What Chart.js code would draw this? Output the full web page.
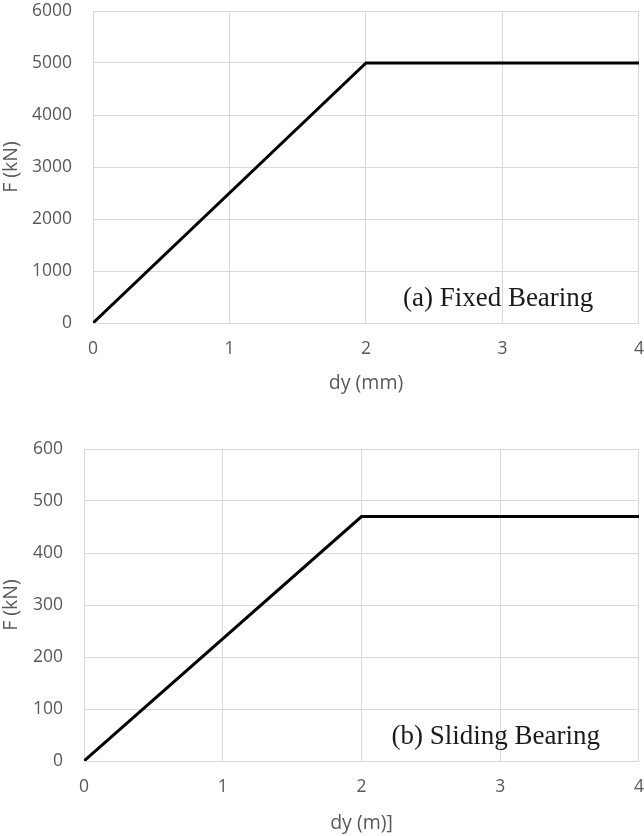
<!DOCTYPE html>
<html>
<head>
<meta charset="utf-8">
<script src="https://cdn.jsdelivr.net/npm/chart.js@4"></script>
<style>
  body { margin: 0; background: #fff; width: 644px; height: 836px; overflow: hidden; }
  .box { position: absolute; left: 0; width: 644px; }
</style>
</head>
<body>
<div class="box" style="top:0;height:400px"><canvas id="fixedChart" width="644" height="400"></canvas></div>
<div class="box" style="top:420px;height:416px"><canvas id="slidingChart" width="644" height="416"></canvas></div>
<script>
// data
const xTicks = [0, 1, 2, 3, 4];
const dyFixed = [0, 2, 4];
const forceFixed = [0, 5000, 5000];
const yTicksFixed = [0, 1000, 2000, 3000, 4000, 5000, 6000];
const dySliding = [0, 2, 4];
const forceSliding = [0, 470, 470];
const yTicksSliding = [0, 100, 200, 300, 400, 500, 600];

const GRID = '#d9d9d9';
const TICK = '#595959';

// text label inside the plot, placed relative to the chart area
const boxLabel = {
    id: 'boxLabel',
    afterDraw(chart, args, opts) {
        const a = chart.chartArea;
        const ctx = chart.ctx;
        ctx.save();
        ctx.font = '27px "Liberation Serif", "Times New Roman", serif';
        ctx.fillStyle = '#1a1a1a';
        ctx.textAlign = 'center';
        ctx.textBaseline = 'middle';
        ctx.fillText(opts.text, a.left + a.width * 0.742, a.top + a.height * 0.924);
        ctx.restore();
    }
};

function makeChart(id, xs, ys, yTicks, xTitle, label, pad, yWidth, xHeight) {
    const points = xs.map((x, i) => ({ x: x, y: ys[i] }));
    return new Chart(document.getElementById(id), {
        type: 'line',
        data: {
            datasets: [{
                data: points,
                borderColor: '#000',
                borderWidth: 3,
                pointRadius: 0,
                tension: 0
            }]
        },
        options: {
            responsive: false,
            animation: false,
            layout: { padding: pad },
            plugins: {
                legend: { display: false },
                tooltip: { enabled: false },
                boxLabel: { text: label }
            },
            scales: {
                x: {
                    type: 'linear',
                    min: xTicks[0],
                    max: xTicks[xTicks.length - 1],
                    afterBuildTicks: s => { s.ticks = xTicks.map(v => ({ value: v })); },
                    afterFit: s => { s.height = xHeight; },
                    grid: { color: GRID, tickLength: 16, tickColor: 'rgba(0,0,0,0)' },
                    border: { color: GRID },
                    ticks: {
                        color: TICK, padding: 0, maxRotation: 0,
                        font: { family: 'Open Sans', size: 17.5 },
                        callback: v => String(v)
                    },
                    title: {
                        display: true, text: xTitle, color: TICK,
                        padding: 0, font: { family: 'Open Sans', size: 19.5 }
                    }
                },
                y: {
                    min: yTicks[0],
                    max: yTicks[yTicks.length - 1],
                    afterBuildTicks: s => { s.ticks = yTicks.map(v => ({ value: v })); },
                    afterFit: s => { s.width = yWidth; },
                    grid: { color: GRID, tickLength: 21, tickColor: 'rgba(0,0,0,0)' },
                    border: { color: GRID },
                    ticks: {
                        color: TICK, padding: 0,
                        font: { family: 'Open Sans', size: 17.5 },
                        callback: v => String(v)
                    },
                    title: {
                        display: true, text: 'F (kN)', color: TICK,
                        padding: 0, font: { family: 'Open Sans', size: 19.5 }
                    }
                }
            }
        },
        plugins: [boxLabel]
    });
}

makeChart('fixedChart', dyFixed, forceFixed, yTicksFixed, 'dy (mm)', '(a) Fixed Bearing',
    { left: 0, right: 0, top: 11, bottom: 5 }, 93, 72);
makeChart('slidingChart', dySliding, forceSliding, yTicksSliding, 'dy (m)]', '(b) Sliding Bearing',
    { left: 0, right: 0, top: 29, bottom: 1 }, 84, 74);
</script>
</body>
</html>
